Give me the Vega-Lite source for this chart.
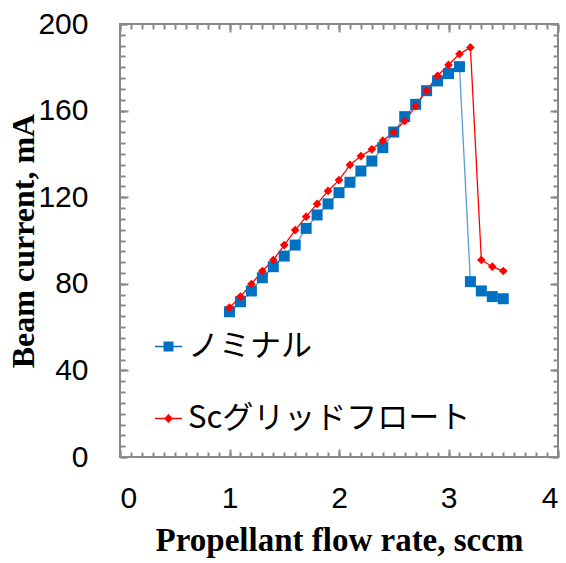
{
  "$schema": "https://vega.github.io/schema/vega-lite/v6.json",
  "width": 438,
  "height": 433,
  "autosize": "none",
  "padding": {"left": 120, "top": 24, "right": 8, "bottom": 106},
  "background": "white",
  "config": {
    "view": {"stroke": "#898989", "strokeWidth": 2},
    "axis": {"grid": false, "domain": false, "tickColor": "#898989", "tickWidth": 2}
  },
  "data": {"values": [
    {"flow": 1.0, "current": 67.1, "series": "ノミナル"},
    {"flow": 1.1, "current": 71.7, "series": "ノミナル"},
    {"flow": 1.2, "current": 76.7, "series": "ノミナル"},
    {"flow": 1.3, "current": 82.8, "series": "ノミナル"},
    {"flow": 1.4, "current": 87.9, "series": "ノミナル"},
    {"flow": 1.5, "current": 92.8, "series": "ノミナル"},
    {"flow": 1.6, "current": 97.9, "series": "ノミナル"},
    {"flow": 1.7, "current": 105.6, "series": "ノミナル"},
    {"flow": 1.8, "current": 111.8, "series": "ノミナル"},
    {"flow": 1.9, "current": 116.9, "series": "ノミナル"},
    {"flow": 2.0, "current": 122.1, "series": "ノミナル"},
    {"flow": 2.1, "current": 126.9, "series": "ノミナル"},
    {"flow": 2.2, "current": 132.1, "series": "ノミナル"},
    {"flow": 2.3, "current": 136.7, "series": "ノミナル"},
    {"flow": 2.4, "current": 142.9, "series": "ノミナル"},
    {"flow": 2.5, "current": 150.1, "series": "ノミナル"},
    {"flow": 2.6, "current": 157.2, "series": "ノミナル"},
    {"flow": 2.7, "current": 162.9, "series": "ノミナル"},
    {"flow": 2.8, "current": 169.2, "series": "ノミナル"},
    {"flow": 2.9, "current": 173.7, "series": "ノミナル"},
    {"flow": 3.0, "current": 177.1, "series": "ノミナル"},
    {"flow": 3.1, "current": 180.3, "series": "ノミナル"},
    {"flow": 3.2, "current": 81.0, "series": "ノミナル"},
    {"flow": 3.3, "current": 76.7, "series": "ノミナル"},
    {"flow": 3.4, "current": 74.1, "series": "ノミナル"},
    {"flow": 3.5, "current": 73.1, "series": "ノミナル"},
    {"flow": 1.0, "current": 69.0, "series": "Scグリッドフロート"},
    {"flow": 1.1, "current": 74.1, "series": "Scグリッドフロート"},
    {"flow": 1.2, "current": 79.9, "series": "Scグリッドフロート"},
    {"flow": 1.3, "current": 85.9, "series": "Scグリッドフロート"},
    {"flow": 1.4, "current": 91.0, "series": "Scグリッドフロート"},
    {"flow": 1.5, "current": 97.9, "series": "Scグリッドフロート"},
    {"flow": 1.6, "current": 104.8, "series": "Scグリッドフロート"},
    {"flow": 1.7, "current": 111.0, "series": "Scグリッドフロート"},
    {"flow": 1.8, "current": 116.9, "series": "Scグリッドフロート"},
    {"flow": 1.9, "current": 122.9, "series": "Scグリッドフロート"},
    {"flow": 2.0, "current": 127.9, "series": "Scグリッドフロート"},
    {"flow": 2.1, "current": 134.9, "series": "Scグリッドフロート"},
    {"flow": 2.2, "current": 139.0, "series": "Scグリッドフロート"},
    {"flow": 2.3, "current": 142.1, "series": "Scグリッドフロート"},
    {"flow": 2.4, "current": 146.1, "series": "Scグリッドフロート"},
    {"flow": 2.5, "current": 150.0, "series": "Scグリッドフロート"},
    {"flow": 2.6, "current": 155.2, "series": "Scグリッドフロート"},
    {"flow": 2.7, "current": 162.1, "series": "Scグリッドフロート"},
    {"flow": 2.8, "current": 169.2, "series": "Scグリッドフロート"},
    {"flow": 2.9, "current": 176.1, "series": "Scグリッドフロート"},
    {"flow": 3.0, "current": 181.1, "series": "Scグリッドフロート"},
    {"flow": 3.1, "current": 186.1, "series": "Scグリッドフロート"},
    {"flow": 3.2, "current": 189.2, "series": "Scグリッドフロート"},
    {"flow": 3.3, "current": 91.0, "series": "Scグリッドフロート"},
    {"flow": 3.4, "current": 87.9, "series": "Scグリッドフロート"},
    {"flow": 3.5, "current": 85.9, "series": "Scグリッドフロート"}
  ]},
  "resolve": {"axis": {"x": "independent", "y": "independent"}},
  "layer": [
    {
      "transform": [{"filter": "datum.series === 'ノミナル'"}],
      "mark": {"type": "line", "strokeWidth": 1.3, "color": "#5B9BD5"},
      "encoding": {
        "x": {"field": "flow", "type": "quantitative", "scale": {"domain": [0, 4], "nice": false},
          "axis": {"orient": "bottom", "values": [0, 1, 2, 3, 4], "offset": -8, "tickSize": 8, "labelPadding": 26,
            "labelFont": "Liberation Sans", "labelFontSize": 30, "labelColor": "black",
            "title": "Propellant flow rate, sccm", "titleFont": "Liberation Serif", "titleFontSize": 33, "titleFontWeight": "bold", "titleColor": "black", "titlePadding": 11}},
        "y": {"field": "current", "type": "quantitative", "scale": {"domain": [0, 200], "nice": false},
          "axis": {"orient": "left", "values": [0, 40, 80, 120, 160, 200], "offset": -8, "tickSize": 8, "labelPadding": 32,
            "labelFont": "Liberation Sans", "labelFontSize": 30, "labelColor": "black",
            "title": "Beam current, mA", "titleFont": "Liberation Serif", "titleFontSize": 32, "titleFontWeight": "bold", "titleColor": "black", "titlePadding": -3}}
      }
    },
    {
      "transform": [{"filter": "datum.series === 'Scグリッドフロート'"}],
      "mark": {"type": "line", "strokeWidth": 1.3, "color": "#FF0000"},
      "encoding": {
        "x": {"field": "flow", "type": "quantitative", "axis": null},
        "y": {"field": "current", "type": "quantitative", "axis": null}
      }
    },
    {
      "transform": [{"filter": "datum.series === 'ノミナル'"}],
      "mark": {"type": "point", "filled": true, "opacity": 1, "shape": "square", "size": 121, "color": "#0070C0"},
      "encoding": {
        "x": {"field": "flow", "type": "quantitative",
          "axis": {"orient": "bottom", "offset": -5, "tickSize": 5, "labels": false, "title": null,
            "values": [0,0.1,0.2,0.3,0.4,0.5,0.6,0.7,0.8,0.9,1,1.1,1.2,1.3,1.4,1.5,1.6,1.7,1.8,1.9,2,2.1,2.2,2.3,2.4,2.5,2.6,2.7,2.8,2.9,3,3.1,3.2,3.3,3.4,3.5,3.6,3.7,3.8,3.9,4]}},
        "y": {"field": "current", "type": "quantitative",
          "axis": {"orient": "left", "offset": -5, "tickSize": 5, "labels": false, "title": null,
            "values": [0,5,10,15,20,25,30,35,40,45,50,55,60,65,70,75,80,85,90,95,100,105,110,115,120,125,130,135,140,145,150,155,160,165,170,175,180,185,190,195,200]}}
      }
    },
    {
      "transform": [{"filter": "datum.series === 'Scグリッドフロート'"}],
      "mark": {"type": "point", "filled": true, "opacity": 1, "shape": "diamond", "size": 75, "color": "#FF0000"},
      "encoding": {
        "x": {"field": "flow", "type": "quantitative", "axis": null},
        "y": {"field": "current", "type": "quantitative", "axis": null}
      }
    },
    {
      "transform": [{"filter": "datum.flow > 100"}],
      "mark": {"type": "point", "filled": true, "opacity": 1, "size": 729},
      "encoding": {
        "x": {"field": "flow", "type": "quantitative",
          "axis": {"orient": "top", "values": [0, 1, 2, 3, 4], "offset": -8, "tickSize": 8, "labels": false, "title": null}},
        "y": {"field": "current", "type": "quantitative",
          "axis": {"orient": "right", "values": [0, 40, 80, 120, 160, 200], "offset": -8, "tickSize": 8, "labels": false, "title": null}},
        "color": {"field": "series", "type": "nominal", "scale": {"domain": ["ノミナル", "Scグリッドフロート"], "range": ["#0070C0", "#FF0000"]},
          "legend": {"title": null, "orient": "none", "legendX": 33, "legendY": 307, "padding": 0, "rowPadding": 40,
            "labelFont": "Noto Sans CJK JP", "labelFontSize": 31, "labelColor": "black", "labelOffset": 4,
            "symbolSize": 729, "labelLimit": 400}},
        "shape": {"field": "series", "type": "nominal",
          "scale": {"domain": ["ノミナル", "Scグリッドフロート"], "range": ["M-1,-0.055H1V0.055H-1ZM-0.37,-0.37H0.37V0.37H-0.37Z", "M-1,-0.05H1V0.05H-1ZM0,-0.33L0.33,0L0,0.33L-0.33,0Z"]},
          "legend": {"title": null, "orient": "none", "legendX": 33, "legendY": 307, "padding": 0, "rowPadding": 40,
            "labelFont": "Noto Sans CJK JP", "labelFontSize": 31, "labelColor": "black", "labelOffset": 4,
            "symbolSize": 729, "labelLimit": 400}}
      }
    },
    {
      "mark": {"type": "point", "opacity": 0},
      "encoding": {
        "x": {"field": "flow", "type": "quantitative",
          "axis": {"orient": "top", "offset": -5, "tickSize": 5, "labels": false, "title": null,
            "values": [0,0.1,0.2,0.3,0.4,0.5,0.6,0.7,0.8,0.9,1,1.1,1.2,1.3,1.4,1.5,1.6,1.7,1.8,1.9,2,2.1,2.2,2.3,2.4,2.5,2.6,2.7,2.8,2.9,3,3.1,3.2,3.3,3.4,3.5,3.6,3.7,3.8,3.9,4]}},
        "y": {"field": "current", "type": "quantitative",
          "axis": {"orient": "right", "offset": -5, "tickSize": 5, "labels": false, "title": null,
            "values": [0,5,10,15,20,25,30,35,40,45,50,55,60,65,70,75,80,85,90,95,100,105,110,115,120,125,130,135,140,145,150,155,160,165,170,175,180,185,190,195,200]}}
      }
    }
  ]
}
